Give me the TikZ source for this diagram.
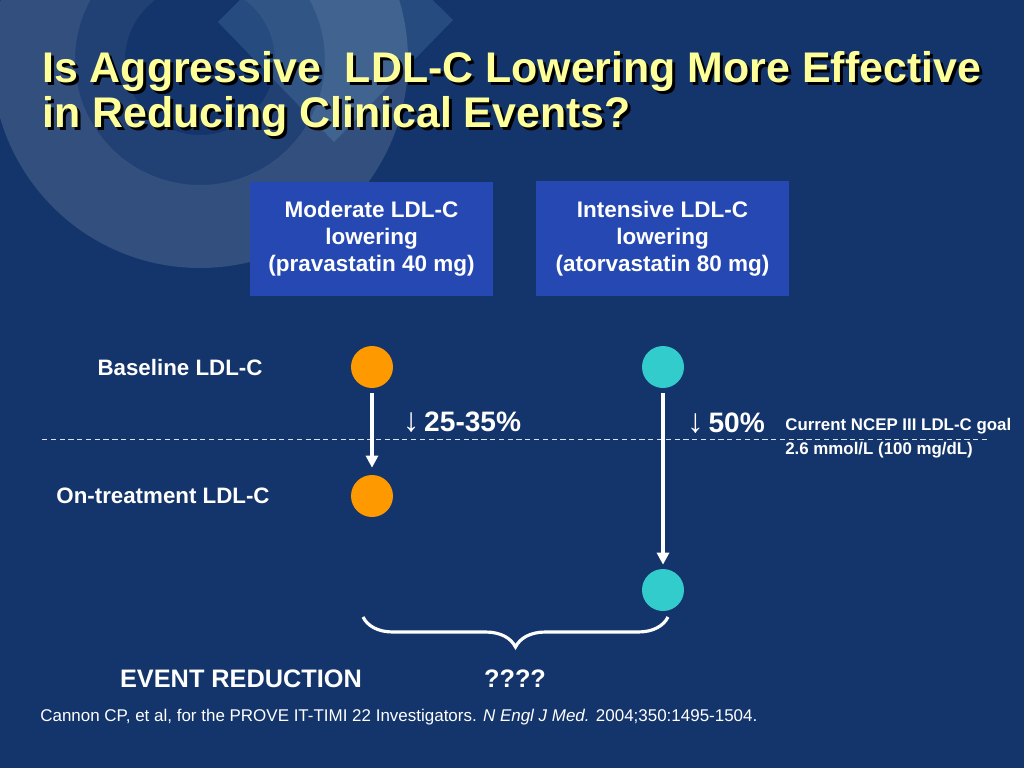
\documentclass[tikz,border=0pt]{standalone}
\usepackage{fontspec}
\setmainfont{Liberation Sans}
\usetikzlibrary{arrows.meta,decorations.pathreplacing}
\definecolor{bg}{HTML}{14356B}
\definecolor{boxblue}{HTML}{2548B2}
\definecolor{ttl}{HTML}{FFFF99}
\definecolor{orng}{HTML}{FF9900}
\definecolor{teal}{HTML}{33CCCC}
\tikzset{
  titletxt/.style={anchor=base west,inner sep=0pt,font=\fontsize{24.4}{29}\selectfont\bfseries},
  hdrbox/.style={fill=boxblue,draw=none,text=white,align=center,inner sep=0pt,
     font=\fontsize{12.8}{15.3}\selectfont\bfseries},
  lbl/.style={text=white,inner sep=0pt,font=\fontsize{12.7}{15}\selectfont\bfseries},
  pct/.style={text=white,inner sep=0pt,font=\fontsize{16}{19}\selectfont\bfseries},
  dot/.style={circle,minimum size=0.84cm,inner sep=0pt,draw=none},
  arr/.style={white,line width=1.8pt,-{Triangle[length=0.24cm,width=0.24cm]}},
}
\begin{document}
\begin{tikzpicture}[x=0.02cm,y=-0.02cm]
\fill[bg] (0,0) rectangle (1024,768);
\useasboundingbox (0,0) rectangle (1024,768);
% decorative background
\begin{scope}
\clip (0,0) rectangle (1024,768);
\fill[white,opacity=0.13,even odd rule] (200,60) circle (208) (200,60) circle (125);
\fill[white,opacity=0.06,even odd rule] (200,60) circle (125) (200,60) circle (75);
\fill[cyan!40!white,opacity=0.14] (218,22) -- (335,-96) -- (453,20) -- (334,142) -- cycle;
\end{scope}
% title
\node[titletxt,text=black] at (45,85) {Is Aggressive\ \ LDL-C Lowering More Effective};
\node[titletxt,text=ttl] (t1) at (42,82) {Is Aggressive\ \ LDL-C Lowering More Effective};
\node[titletxt,text=black] at (45,130) {in Reducing Clinical Events?};
\node[titletxt,text=ttl] (t2) at (42,127) {in Reducing Clinical Events?};
% header boxes
\node[hdrbox,minimum width=4.86cm,minimum height=2.28cm] (mod) at (371.5,239) {Moderate LDL-C\\lowering\\(pravastatin 40 mg)};
\node[hdrbox,minimum width=5.06cm,minimum height=2.3cm] (int) at (662.5,238.5) {Intensive LDL-C\\lowering\\(atorvastatin 80 mg)};
% row labels
\node[lbl] (base) at (180,368) {Baseline LDL-C};
\node[lbl] (ontr) at (163,496) {On-treatment LDL-C};
% dots
\node[dot,fill=orng] (ob) at (372,367) {};
\node[dot,fill=teal] (tb) at (663,367) {};
\node[dot,fill=orng] (ot) at (372,496) {};
\node[dot,fill=teal] (tt) at (663,590) {};
% dashed goal line
\coordinate (gl) at (42,439);
\coordinate (gr) at (990,439);
\draw[white!85!bg,line width=0.5pt,dash pattern=on 3pt off 2pt] (gl) -- (gr);
% arrows
\draw[arr] ([yshift=-0.1cm]ob.south) -- ([yshift=0.14cm]ot.north);
\draw[arr] ([yshift=-0.1cm]tb.south) -- ([yshift=0.08cm]tt.north);
% percentages
\node[pct] (p1) at (462,422) {{\fontsize{19}{19}\selectfont\mdseries ↓}\,25-35\%};
\node[pct] (p2) at (726,423) {{\fontsize{19}{19}\selectfont\mdseries ↓}\,50\%};
\node[text=white,anchor=west,align=left,inner sep=0pt,font=\fontsize{9.6}{13.6}\selectfont\bfseries] (goal) at (785,438) {Current NCEP III LDL-C goal\\2.6 mmol/L (100 mg/dL)};
% brace
\coordinate (bl) at (363,617);
\coordinate (br) at (668,617);
\draw[white,line width=1.8pt,decorate,decoration={brace,mirror,amplitude=0.6cm}] (bl) -- (br);
\node[text=white,inner sep=0pt,font=\fontsize{14.4}{17}\selectfont\bfseries] (ev) at (241,679) {EVENT REDUCTION};
\node[text=white,inner sep=0pt,font=\fontsize{14.4}{17}\selectfont\bfseries] (q) at (515,679) {????};
% citation
\node[text=white,anchor=west,inner sep=0pt,font=\fontsize{9.66}{11}\selectfont] (cit) at (40,717) {Cannon CP, et al, for the PROVE IT-TIMI 22 Investigators. \textit{N Engl J Med.} 2004;350:1495-1504.};
\end{tikzpicture}
\end{document}
